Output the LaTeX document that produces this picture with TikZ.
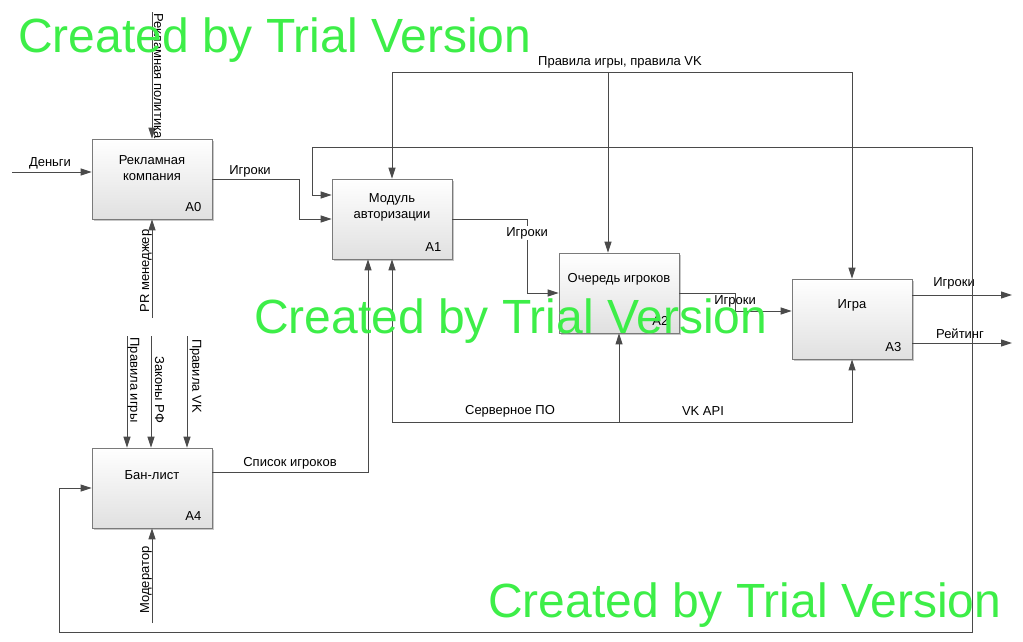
\documentclass[tikz,border=0pt]{standalone}
\usepackage{fontspec}
\setmainfont{Liberation Sans}
\usetikzlibrary{arrows.meta,calc,shadows}
\definecolor{lc}{HTML}{4A4A4A}
\definecolor{bc}{HTML}{7A7A7A}
\definecolor{boxbot}{HTML}{E0E0E0}
\definecolor{wmg}{HTML}{3DEE48}
\tikzset{
  arr/.style={draw=lc, line width=1pt, -{Triangle[length=11pt,width=7pt]}},
  arrtwo/.style={draw=lc, line width=1pt, {Triangle[length=11pt,width=7pt]}-{Triangle[length=11pt,width=7pt]}},
  box/.style={draw=bc, line width=0.8pt, minimum width=120pt, minimum height=80pt, inner sep=0pt,
    top color=white, bottom color=boxbot,
    drop shadow={shadow xshift=2pt, shadow yshift=-2pt, fill=black, opacity=0.22}},
  ttl/.style={align=center, inner sep=0pt},
  num/.style={inner sep=0pt},
  lbl/.style={inner sep=0pt},
  wm/.style={anchor=base west, inner sep=0pt, text=wmg, font=\fontsize{48}{48}\selectfont}
}
\begin{document}
\begin{tikzpicture}[x=1pt,y=-1pt, every node/.append style={font=\fontsize{13}{16}\selectfont}]
\useasboundingbox[fill=white] (0,0) rectangle (1023,641);

% boxes
\node[box] (A0) at (152,179) {};
\node[ttl] (A0t) at ($(A0.north)+(0,29)$) {Рекламная\\компания};
\node[num] (A0n) at ($(A0.south east)+(-19,-12)$) {A0};

\node[box] (A1) at (392,219) {};
\node[ttl] (A1t) at ($(A1.north)+(0,29)$) {Модуль\\авторизации};
\node[num] (A1n) at ($(A1.south east)+(-19,-12)$) {A1};

\node[box] (A2) at (619,293) {};
\node[ttl] (A2t) at ($(A2.north)+(0,27)$) {Очередь игроков};
\node[num] (A2n) at ($(A2.south east)+(-19,-12)$) {A2};

\node[box] (A3) at (852,319) {};
\node[ttl] (A3t) at ($(A3.north)+(0,27)$) {Игра};
\node[num] (A3n) at ($(A3.south east)+(-19,-12)$) {A3};

\node[box] (A4) at (152,488) {};
\node[ttl] (A4t) at ($(A4.north)+(0,27)$) {Бан-лист};
\node[num] (A4n) at ($(A4.south east)+(-19,-12)$) {A4};

% A0 arrows
\coordinate (inD) at (12,172);
\draw[arr] (inD) -- (inD -| A0.west);
\node[lbl] (lD) at (50,163) {Деньги};
\coordinate (cRP) at (152,12);
\draw[arr] (cRP) -- (A0.north);
\node[lbl, rotate=-90] (lRP) at (158.5,76) {Рекламная политика};
\coordinate (mPR) at (152,318);
\draw[arr] (mPR) -- (A0.south);
\node[lbl, rotate=90] (lPR) at (146,271) {PR менеджер};

% flows between boxes
\draw[arr] (A0.east) -- ++(87,0) |- (A1.west);
\node[lbl] (l01) at (250,171) {Игроки};
\draw[arr] (A1.east) -- ++(75,0) |- (A2.west);
\node[lbl, fill=white, inner sep=1pt] (l12) at (527,233) {Игроки};
\draw[arr] (A2.east) -- ++(56,0) |- ($(A3.west)+(0,-8)$);
\node[lbl] (l23) at (735,301) {Игроки};

% outputs
\coordinate (oI) at (1012,295);
\draw[arr] (A3.east |- oI) -- (oI);
\node[lbl] (lOI) at (954,283) {Игроки};
\coordinate (oR) at (1012,343);
\draw[arr] (A3.east |- oR) -- (oR);
\node[lbl] (lOR) at (960,334) {Рейтинг};

% feedback loop
\draw[arrtwo] (A4.west) -- ++(-32,0) |- (972,632) -- (972,147) -- (312,147) |- ($(A1.west)+(0,-24)$);

% controls
\coordinate (ctl) at (608,72);
\draw[arr] (ctl) -| (A1.north);
\draw[arr] (ctl) -| (A3.north);
\draw[arr] (ctl) -- (ctl |- A2.north);
\node[lbl] (lCtl) at (620,62) {Правила игры, правила VK};

% mechanisms
\coordinate (mch) at (619,422);
\draw[arr] (mch) -| (A1.south);
\draw[arr] (mch) -| (A3.south);
\draw[arr] (mch) -- (A2.south);
\node[lbl] (lSrv) at (510,411) {Серверное ПО};
\node[lbl] (lVK) at (703,411) {VK API};

% ban list output
\draw[arr] ($(A4.east)+(0,-16)$) -| ($(A1.south)+(-24,0)$);
\node[lbl] (lSp) at (290,463) {Список игроков};

% A4 controls
\coordinate (k1) at (127,336);
\coordinate (k2) at (151,336);
\coordinate (k3) at (187,336);
\draw[arr] (k1) -- (k1 |- A4.north);
\draw[arr] (k2) -- (k2 |- A4.north);
\draw[arr] (k3) -- (k3 |- A4.north);
\node[lbl, rotate=-90] (lk1) at (133.5,380) {Правила игры};
\node[lbl, rotate=-90] (lk2) at (159.5,390) {Законы РФ};
\node[lbl, rotate=-90] (lk3) at (195.5,376) {Правила VK};
\coordinate (mMod) at (152,623);
\draw[arr] (mMod) -- (A4.south);
\node[lbl, rotate=90] (lMod) at (146,580) {Модератор};

% watermarks
\node[wm] (w1) at (18,52) {Created by Trial Version};
\node[wm] (w2) at (254,333) {Created by Trial Version};
\node[wm] (w3) at (488,617) {Created by Trial Version};
\end{tikzpicture}
\end{document}
